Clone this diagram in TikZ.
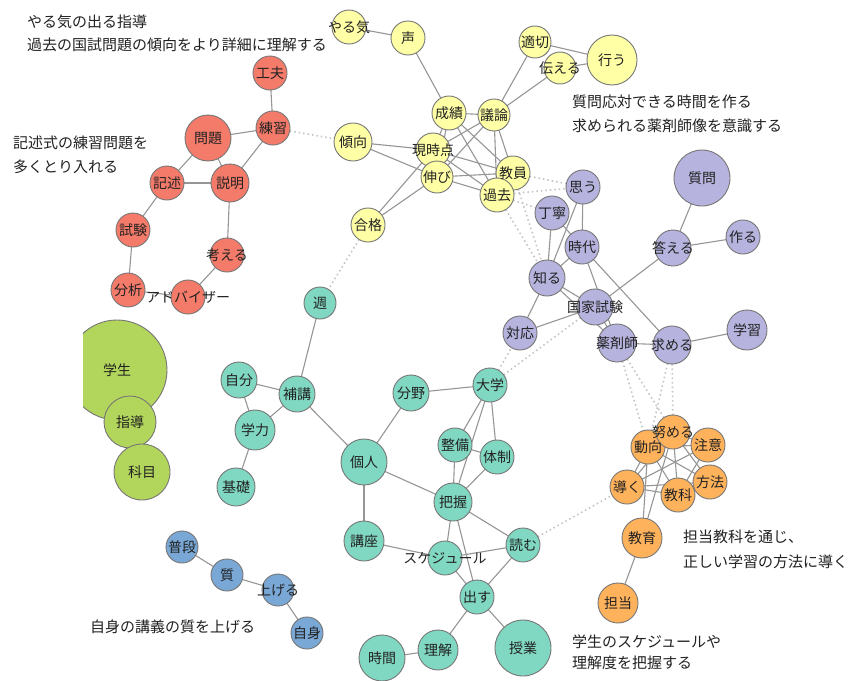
\documentclass[tikz,border=0pt]{standalone}
\usepackage{fontspec}
\setmainfont{Noto Sans CJK JP}
\usetikzlibrary{backgrounds}
\definecolor{cyel}{RGB}{255,255,166}
\definecolor{cred}{RGB}{244,122,106}
\definecolor{clime}{RGB}{178,214,92}
\definecolor{cteal}{RGB}{128,216,194}
\definecolor{cpur}{RGB}{182,180,222}
\definecolor{corg}{RGB}{255,178,92}
\definecolor{cblue}{RGB}{122,168,214}
\definecolor{cbord}{RGB}{118,118,118}
\definecolor{cedge}{RGB}{150,150,150}
\definecolor{cdot}{RGB}{196,196,196}
\definecolor{ctxt}{RGB}{34,34,34}
\tikzset{
  nd/.style={circle, draw=cbord, line width=0.9pt, inner sep=0pt, outer sep=0pt},
  yel/.style={nd, fill=cyel},
  red/.style={nd, fill=cred},
  lime/.style={nd, fill=clime},
  teal/.style={nd, fill=cteal},
  pur/.style={nd, fill=cpur},
  org/.style={nd, fill=corg},
  blu/.style={nd, fill=cblue},
  lbl/.style={font=\fontsize{14}{16}\selectfont, text=ctxt, inner sep=0pt},
  note/.style={font=\fontsize{15}{18}\selectfont, text=ctxt, anchor=west, inner sep=0pt},
  edge/.style={draw=cedge, line width=1.1pt},
  weak/.style={draw=cdot, line width=1.6pt, dash pattern=on 1.5pt off 3pt},
}
\def\nodelist{%
yaruki/349/27/17/やる気/yel,
koe/408/38/17/声/yel,
tekisetsu/535/42/16/適切/yel,
tsutaeru/560/68/16/伝える/yel,
okonau/612/60/25/行う/yel,
seiseki/449/113/17/成績/yel,
giron/494/115/16/議論/yel,
keikou/353/142/19/傾向/yel,
goukaku/368/225/17/合格/yel,
genjiten/433/150/17/現時点/yel,
nobi/437/177/16/伸び/yel,
kyouin/513/173/17/教員/yel,
kako/497/195/17/過去/yel,
kufuu/270/73/17/工夫/red,
renshu/273/128/17/練習/red,
mondai/208/138/23/問題/red,
kijutsu/167/183/17/記述/red,
setsumei/230/183/19/説明/red,
shiken/133/230/17/試験/red,
kangaeru/227/255/17/考える/red,
bunseki/128/290/17/分析/red,
adv/188/297/17/アドバイザー/red,
shidou/130/422/26/指導/lime,
kamoku/142/472/28/科目/lime,
shuu/320/303/16/週/teal,
jibun/239/380/18/自分/teal,
hokou/297/394/18/補講/teal,
gakuryoku/255/430/20/学力/teal,
kiso/236/487/19/基礎/teal,
kojin/364/462/23/個人/teal,
kouza/364/541/20/講座/teal,
bunya/411/393/18/分野/teal,
daigaku/490/385/17/大学/teal,
seibi/455/445/17/整備/teal,
taisei/497/457/17/体制/teal,
haaku/453/502/19/把握/teal,
yomu/523/545/17/読む/teal,
sched/445/558/17/スケジュール/teal,
dasu/477/597/17/出す/teal,
jikan/382/658/23/時間/teal,
rikai/438/650/20/理解/teal,
jugyou/523/648/28/授業/teal,
shitsumon/702/178/28/質問/pur,
omou/583/187/17/思う/pur,
teinei/552/213/17/丁寧/pur,
jidai/582/247/17/時代/pur,
kotaeru/673/248/18/答える/pur,
tsukuru/743/237/17/作る/pur,
shiru/547/278/18/知る/pur,
kokka/595/307/18/国家試験/pur,
taiou/520/333/17/対応/pur,
yakuzai/617/343/19/薬剤師/pur,
motomeru/672/345/19/求める/pur,
gakushu/747/330/20/学習/pur,
doukou/648/447/17/動向/org,
tsutomeru/673/432/17/努める/org,
chui/708/445/17/注意/org,
houhou/710/482/17/方法/org,
kyouka/678/495/17/教科/org,
michibiku/627/487/17/導く/org,
kyouiku/642/538/20/教育/org,
tantou/618/603/20/担当/org,
fudan/182/547/16/普段/blu,
shitsu/227/575/16/質/blu,
ageru/278/590/16/上げる/blu,
jishin/307/633/16/自身/blu}
\begin{document}
\begin{tikzpicture}[x=1pt,y=-1pt]
\useasboundingbox (0,0) rectangle (848,680);
% clipped large circle
\begin{scope}
\clip (83,0) rectangle (848,680);
\node[lime, minimum size=100pt] (gakusei) at (117,370) {};
\end{scope}
% circles
\foreach \nm/\px/\py/\rr/\tx/\st in \nodelist {
  \node[\st, minimum size=2*\rr pt] (\nm) at (\px,\py) {};
}
% texts on top
\node[lbl] (gakusei-t) at (gakusei) {学生};
\foreach \nm/\px/\py/\rr/\tx/\st in \nodelist {
  \node[lbl] (\nm-t) at (\nm) {\tx};
}
% edges
\begin{scope}[on background layer]
\fill[white] (0,0) rectangle (848,680);
\foreach \a/\b in {yaruki/koe, koe/seiseki, tekisetsu/okonau, tsutaeru/okonau,
  tekisetsu/giron, tsutaeru/giron, seiseki/giron, seiseki/genjiten, seiseki/nobi,
  seiseki/kyouin, seiseki/kako, giron/genjiten, giron/nobi, giron/kyouin, giron/kako,
  genjiten/kyouin, genjiten/kako, nobi/kyouin, nobi/kako, kyouin/kako,
  keikou/genjiten, keikou/nobi, goukaku/genjiten, goukaku/nobi,
  kufuu/renshu, renshu/mondai, renshu/setsumei, mondai/kijutsu, mondai/setsumei,
  kijutsu/setsumei, kijutsu/shiken, setsumei/kangaeru, shiken/bunseki,
  bunseki/adv, kangaeru/adv,
  shuu/hokou, jibun/hokou, jibun/gakuryoku, hokou/gakuryoku, gakuryoku/kiso,
  hokou/kojin, kojin/bunya, kojin/kouza, kojin/haaku, bunya/daigaku,
  daigaku/seibi, daigaku/haaku, daigaku/taisei, seibi/taisei, seibi/haaku,
  taisei/haaku, haaku/sched, haaku/dasu, haaku/yomu, kouza/sched, sched/yomu,
  sched/dasu, yomu/dasu, dasu/rikai, dasu/jugyou, rikai/jikan,
  shitsumon/kotaeru, kotaeru/tsukuru, kotaeru/kokka, omou/jidai, omou/shiru,
  teinei/shiru, teinei/jidai, jidai/shiru, jidai/yakuzai, jidai/motomeru,
  shiru/kokka, shiru/yakuzai, shiru/taiou, taiou/kokka, kokka/yakuzai,
  yakuzai/motomeru, motomeru/gakushu,
  doukou/tsutomeru, doukou/chui, doukou/houhou, doukou/kyouka, doukou/michibiku,
  doukou/kyouiku, tsutomeru/chui, tsutomeru/houhou, tsutomeru/kyouka,
  tsutomeru/michibiku, tsutomeru/kyouiku, chui/michibiku, chui/kyouka,
  houhou/michibiku, houhou/kyouka, michibiku/kyouka, kyouiku/tantou,
  fudan/shitsu, shitsu/ageru, ageru/jishin}
  \draw[edge] (\a) -- (\b);
\foreach \a/\b in {renshu/keikou, goukaku/shuu, daigaku/taiou, daigaku/kokka,
  yomu/michibiku, yakuzai/doukou, yakuzai/tsutomeru, motomeru/tsutomeru,
  motomeru/doukou, kyouin/omou, kako/omou, kako/shiru, kyouin/shiru, kako/teinei}
  \draw[weak] (\a) -- (\b);
\end{scope}
% annotations
\node[note] (n1) at (27,22) {やる気の出る指導};
\node[note] (n2) at (27,45) {過去の国試問題の傾向をより詳細に理解する};
\node[note] (n3) at (13,143) {記述式の練習問題を};
\node[note] (n4) at (13,167) {多くとり入れる};
\node[note] (n5) at (572,102) {質問応対できる時間を作る};
\node[note] (n6) at (572,126) {求められる薬剤師像を意識する};
\node[note] (n7) at (683,537) {担当教科を通じ、};
\node[note] (n8) at (683,562) {正しい学習の方法に導く};
\node[note] (n9) at (572,642) {学生のスケジュールや};
\node[note] (n10) at (572,663) {理解度を把握する};
\node[note] (n11) at (90,627) {自身の講義の質を上げる};
\end{tikzpicture}
\end{document}
